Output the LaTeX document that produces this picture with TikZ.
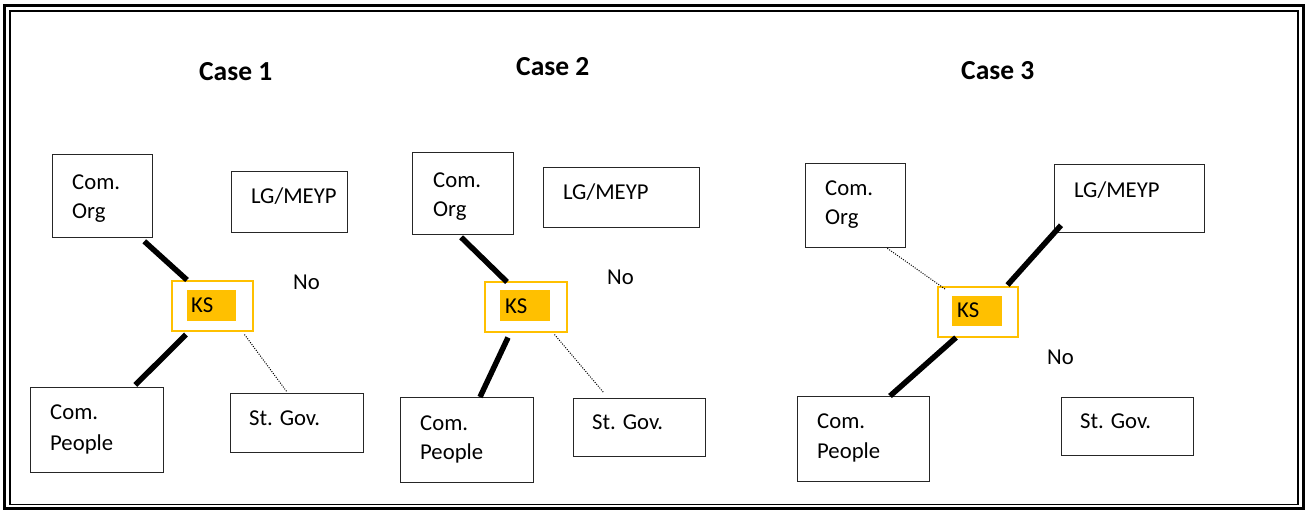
\documentclass[tikz,border=0pt]{standalone}
\usepackage{fontspec}
\setmainfont{Carlito}
\definecolor{ksorange}{HTML}{FFC000}
\tikzset{
  x=1pt, y=-1pt,
  box/.style={draw=black!85, line width=1.3pt, rectangle, inner sep=0pt, anchor=north west},
  ksframe/.style={draw=ksorange, line width=1.5pt, rectangle, inner sep=0pt, anchor=north west},
  ksfill/.style={fill=ksorange, rectangle, inner sep=0pt, anchor=north west},
  lbl/.style={inner sep=0pt, anchor=base west, font=\fontsize{22.7}{27}\selectfont},
  title/.style={inner sep=0pt, anchor=base west, font=\fontsize{27.5}{32}\selectfont\bfseries},
  strong/.style={line width=5.5pt, black},
  weak/.style={line width=1pt, black, dash pattern=on 1pt off 1.4pt},
}
% rectangle node spanning (x1,y1)-(x2,y2)
\newcommand{\boxnode}[6]{%
  \node[#1, minimum width=#5-#3, minimum height=#6-#4] (#2) at (#3,#4) {};}
\begin{document}
\begin{tikzpicture}
\useasboundingbox (0,0) rectangle (1306,512);
\fill[white] (0,0) rectangle (1306,512);
% double page frame
\draw[line width=3pt] (4.5,5.5) rectangle (1303.5,508);
\draw[line width=1.5pt] (10,11) rectangle (1298,504.5);

% titles
\node[title] (c1) at (199,80) {Case 1};
\node[title] (c2) at (516,75) {Case 2};
\node[title] (c3) at (961,79) {Case 3};

% ---------- Case 1 ----------
\boxnode{box}{org1}{52}{154}{152}{237}
\boxnode{box}{lg1}{231}{171}{347}{232}
\boxnode{ksframe}{ks1}{171}{280}{252}{330}
\boxnode{ksfill}{ksf1}{187}{290}{236}{321}
\boxnode{box}{ppl1}{30}{387}{163}{472}
\boxnode{box}{gov1}{230}{393}{363}{452}
\node[lbl] (org1a) at (72,189) {Com.};
\node[lbl] (org1b) at (72,218) {Org};
\node[lbl] (lg1t) at (251,203) {LG/MEYP};
\node[lbl] (ks1t) at (191,312) {KS};
\node[lbl] (ppl1a) at (50,419) {Com.};
\node[lbl] (ppl1b) at (50,450) {People};
\node[lbl] (gov1t) at (249,425) {St. Gov.};
\node[lbl] (no1) at (293,289) {No};
\draw[strong] ([shift={(-9,3)}]org1.south east) -- ([shift={(16,0)}]ks1.north west);
\draw[strong] ([shift={(15,3)}]ks1.south west) -- ([shift={(-29,-2)}]ppl1.north east);
\draw[weak] ([shift={(-9,3)}]ks1.south east) -- ([shift={(57,-1)}]gov1.north west);

% ---------- Case 2 ----------
\boxnode{box}{org2}{412}{152}{513}{234}
\boxnode{box}{lg2}{543}{167}{699}{227}
\boxnode{ksframe}{ks2}{484}{281}{566}{331}
\boxnode{ksfill}{ksf2}{500}{290}{550}{321}
\boxnode{box}{ppl2}{400}{397}{533}{482}
\boxnode{box}{gov2}{573}{398}{705}{456}
\node[lbl] (org2a) at (433,187) {Com.};
\node[lbl] (org2b) at (433,216) {Org};
\node[lbl] (lg2t) at (563,199) {LG/MEYP};
\node[lbl] (ks2t) at (505,313) {KS};
\node[lbl] (ppl2a) at (420,430) {Com.};
\node[lbl] (ppl2b) at (420,459) {People};
\node[lbl] (gov2t) at (592,429) {St. Gov.};
\node[lbl] (no2) at (607,284) {No};
\draw[strong] ([shift={(-2,2)}]org2.south) -- ([shift={(23,1)}]ks2.north west);
\draw[strong] ([shift={(24,5)}]ks2.south west) -- ([shift={(80,0)}]ppl2.north west);
\draw[weak] ([shift={(-13,2)}]ks2.south east) -- ([shift={(31,-5)}]gov2.north west);

% ---------- Case 3 ----------
\boxnode{box}{org3}{805}{163}{905}{247}
\boxnode{box}{lg3}{1054}{164}{1204}{232}
\boxnode{ksframe}{ks3}{937}{286}{1017}{336}
\boxnode{ksfill}{ksf3}{952}{296}{1002}{326}
\boxnode{box}{ppl3}{797}{396}{929}{481}
\boxnode{box}{gov3}{1061}{397}{1193}{455}
\node[lbl] (org3a) at (825,195) {Com.};
\node[lbl] (org3b) at (825,224) {Org};
\node[lbl] (lg3t) at (1074,197) {LG/MEYP};
\node[lbl] (ks3t) at (957,317) {KS};
\node[lbl] (ppl3a) at (817,428) {Com.};
\node[lbl] (ppl3b) at (817,458) {People};
\node[lbl] (gov3t) at (1080,428) {St. Gov.};
\node[lbl] (no3) at (1047,364) {No};
\draw[strong] ([shift={(7,-8)}]lg3.south west) -- ([shift={(-11,-1)}]ks3.north east);
\draw[strong] ([shift={(19,0)}]ks3.south west) -- ([shift={(93,0)}]ppl3.north west);
\draw[weak] ([shift={(-19,0)}]org3.south east) -- ([shift={(8,3)}]ks3.north west);
\end{tikzpicture}
\end{document}
